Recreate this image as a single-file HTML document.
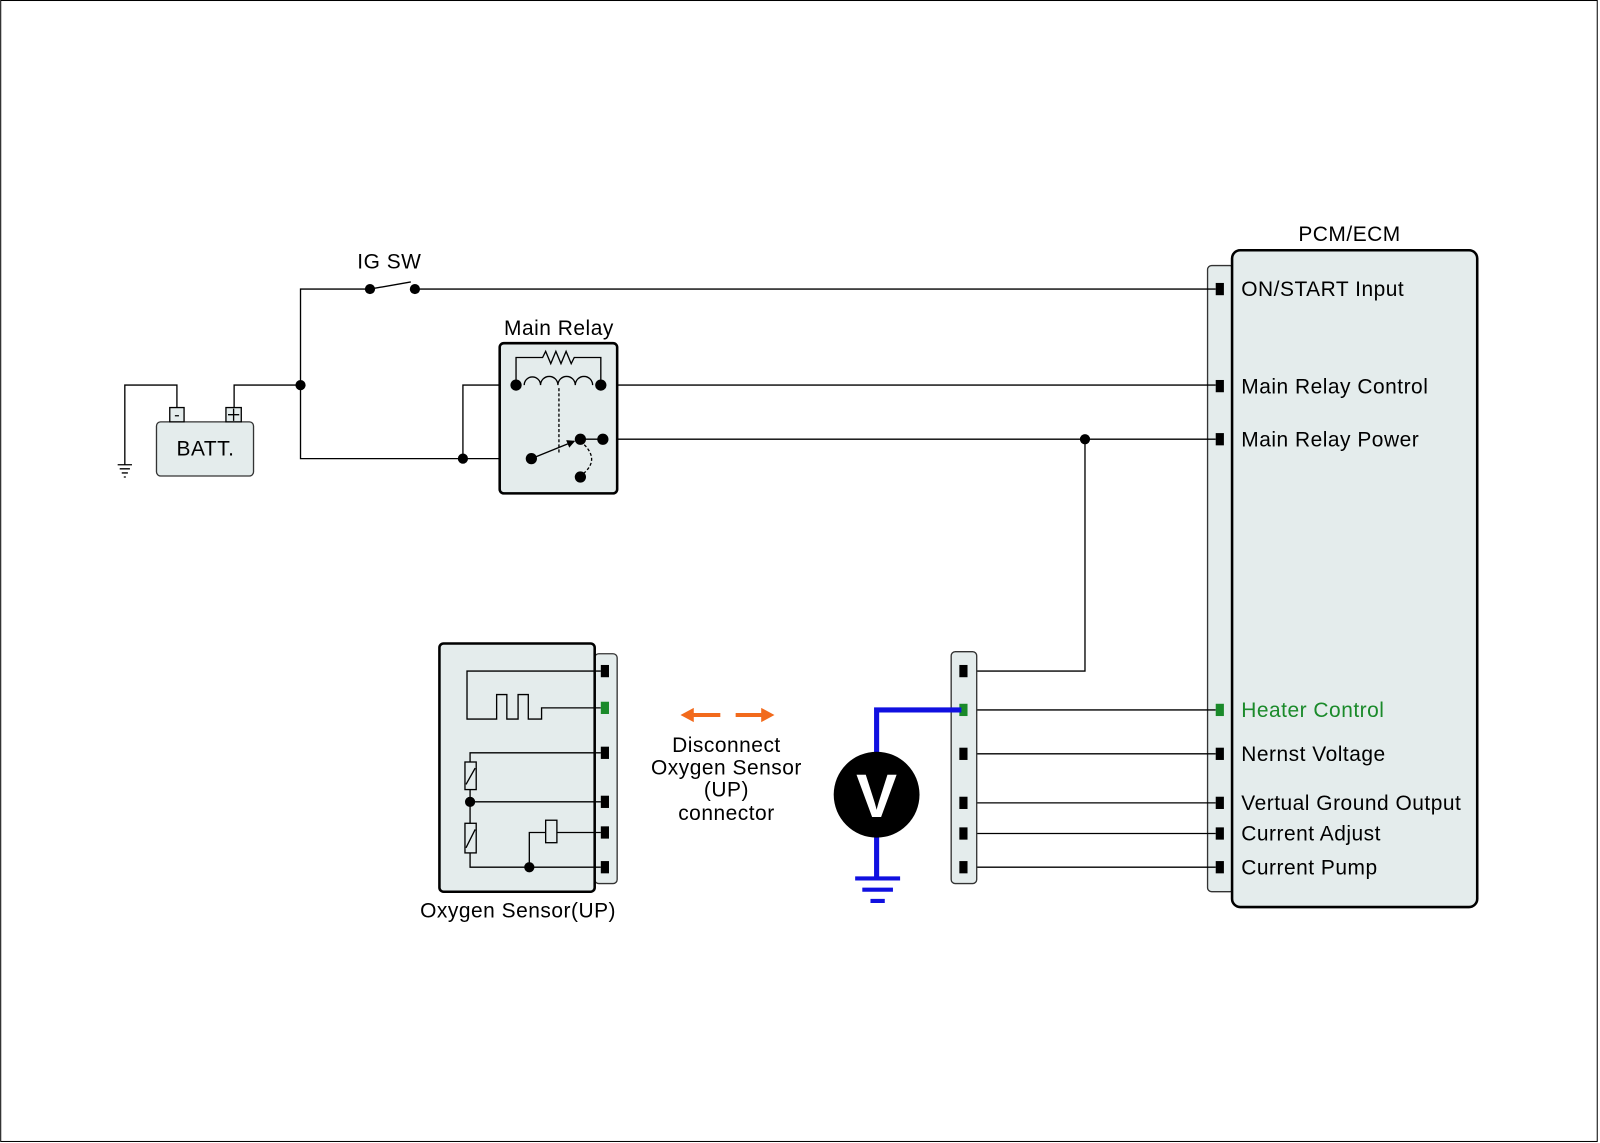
<!DOCTYPE html>
<html><head><style>
html,body{margin:0;padding:0;background:#fff;}
svg{display:block;}
text{font-family:"Liberation Sans",Arial,sans-serif;}
</style></head><body>
<svg width="1600" height="1143" viewBox="0 0 1566 1119" xmlns="http://www.w3.org/2000/svg">
<rect x="0.5" y="0.5" width="1563" height="1117" fill="#fff" stroke="#000" stroke-width="1"/>
<defs><marker id="ah" markerWidth="8" markerHeight="8" refX="7" refY="4" orient="auto" markerUnits="userSpaceOnUse"><path d="M0,0 L8,4 L0,8 z" fill="#000"/></marker></defs>
<g stroke="#000" stroke-width="1.3" fill="none">
<rect x="1182" y="260" width="26" height="613" rx="4" fill="#e4ecec" stroke="#333"/>
<rect x="1206" y="245" width="240" height="643" rx="8" fill="#e4ecec" stroke-width="2.5"/>
<path d="M406,283 H1190"/>
<path d="M362,283 H294 V449 H520"/>
<path d="M362,283 L402,276"/>
<path d="M229,399 V377 H294"/>
<path d="M173,399 V377 H122 V455"/>
<path d="M115,455 H129 M117,459 H127 M119,463 H125 M121,467 H123"/>
<path d="M453,449 V377 H505"/>
<path d="M588,377 H1190"/>
<path d="M590,430 H1190"/>
<path d="M1062,430 V657 H943"/>
<path d="M943,695 H1190 M943,738 H1190 M943,786 H1190 M943,816 H1190 M943,849 H1190"/>
<rect x="153" y="413" width="95" height="53" rx="4" fill="#e4ecec" stroke="#333"/>
<rect x="166" y="399" width="14" height="14" fill="#e4ecec"/>
<rect x="221" y="399" width="15" height="14" fill="#e4ecec"/>
<path d="M171,407 H175 M223,406 H234 M228.5,400 V412"/>
<rect x="489" y="336" width="115" height="147" rx="4" fill="#e4ecec" stroke-width="2.5"/>
<path d="M505,377 V350 H531 l3,-6 l5,12 l5,-12 l5,12 l5,-12 l5,12 l3,-6 H588 V377"/>
<path d="M513,377 a8,8 0 0 1 16,0 a8,8 0 0 1 17,0 a8,8 0 0 1 17,0 a8,8 0 0 1 17,0"/>
<path d="M547,380 V444" stroke-dasharray="3,2"/>
<path d="M520,449 L562,432" marker-end="url(#ah)"/>
<path d="M568,430 H590"/>
<path d="M568,432 Q590,450 568,466" stroke-dasharray="3,2"/>
<rect x="582" y="640" width="22" height="225" rx="4" fill="#e4ecec" stroke="#333"/>
<rect x="430" y="630" width="152" height="243" rx="4" fill="#e4ecec" stroke-width="2.5"/>
<path d="M588,657 H457 V704 H486 V680 H496 V704 H507 V680 H517 V704 H530 V693 H588"/>
<path d="M588,737 H460 V746 M460,773 V806 M460,835 V849 H588 M460,785 H588"/>
<rect x="455" y="746" width="11" height="27" fill="#e4ecec"/>
<rect x="455" y="806" width="11" height="29" fill="#e4ecec"/>
<path d="M456,768 L465,752 M456,830 L465,812"/>
<path d="M518,849 V815 H534 M545,815 H588"/>
<rect x="534" y="803" width="11" height="22" fill="#e4ecec"/>
<rect x="931" y="638" width="25" height="227" rx="4" fill="#e4ecec" stroke="#333"/>
</g>
<g fill="#000">
<circle cx="362" cy="283" r="5"/><circle cx="406" cy="283" r="5"/>
<circle cx="294" cy="377" r="5"/><circle cx="453" cy="449" r="5"/>
<circle cx="505" cy="377" r="5.5"/><circle cx="588" cy="377" r="5.5"/>
<circle cx="520" cy="449" r="5.5"/><circle cx="568" cy="430" r="5.5"/><circle cx="590" cy="430" r="5.5"/><circle cx="568" cy="467" r="5.5"/>
<circle cx="1062" cy="430" r="5"/>
<circle cx="460" cy="785" r="5"/><circle cx="518" cy="849" r="5"/>
<rect x="1190" y="277" width="8" height="12"/><rect x="1190" y="372" width="8" height="12"/><rect x="1190" y="424" width="8" height="12"/>
<rect x="1190" y="689" width="8" height="12" fill="#1a8a2a"/>
<rect x="1190" y="732" width="8" height="12"/><rect x="1190" y="780" width="8" height="12"/><rect x="1190" y="810" width="8" height="12"/><rect x="1190" y="843" width="8" height="12"/>
<rect x="939" y="651" width="8" height="12"/>
<rect x="939" y="689" width="8" height="12" fill="#1a8a2a"/>
<rect x="939" y="732" width="8" height="12"/><rect x="939" y="780" width="8" height="12"/><rect x="939" y="810" width="8" height="12"/><rect x="939" y="843" width="8" height="12"/>
<rect x="588" y="651" width="8" height="12"/>
<rect x="588" y="687" width="8" height="12" fill="#1a8a2a"/>
<rect x="588" y="731" width="8" height="12"/><rect x="588" y="779" width="8" height="12"/><rect x="588" y="809" width="8" height="12"/><rect x="588" y="843" width="8" height="12"/>
</g>
<path d="M941,695 H858 V740 M858,818 V860" stroke="#1010e0" stroke-width="5" fill="none"/>
<path d="M837,860 H881 M844,871 H874 M852,882 H866" stroke="#1010e0" stroke-width="4"/>
<circle cx="858" cy="778" r="42" fill="#000"/>
<text x="858" y="800" font-size="60" font-weight="bold" fill="#fff" text-anchor="middle">V</text>
<g stroke="#f26a1c" stroke-width="4" fill="#f26a1c">
<path d="M676,700 H705"/><path d="M666,700 L679,693 L679,707 z" stroke="none"/>
<path d="M720,700 H748"/><path d="M758,700 L745,693 L745,707 z" stroke="none"/>
</g>
<g font-size="20.5" fill="#000" letter-spacing="0.5">
<text x="381" y="263" text-anchor="middle">IG SW</text>
<text x="547" y="328" text-anchor="middle">Main Relay</text>
<text x="201" y="446" text-anchor="middle">BATT.</text>
<text x="1321" y="236" text-anchor="middle">PCM/ECM</text>
<text x="1215" y="290">ON/START Input</text>
<text x="1215" y="385">Main Relay Control</text>
<text x="1215" y="437">Main Relay Power</text>
<text x="1215" y="702" fill="#1a8a2a">Heater Control</text>
<text x="1215" y="745">Nernst Voltage</text>
<text x="1215" y="793">Vertual Ground Output</text>
<text x="1215" y="823">Current Adjust</text>
<text x="1215" y="856">Current Pump</text>
<text x="507" y="898" text-anchor="middle">Oxygen Sensor(UP)</text>
<text x="711" y="736" text-anchor="middle">Disconnect</text>
<text x="711" y="758" text-anchor="middle">Oxygen Sensor</text>
<text x="711" y="780" text-anchor="middle">(UP)</text>
<text x="711" y="803" text-anchor="middle">connector</text>
</g>
</svg>
</body></html>
